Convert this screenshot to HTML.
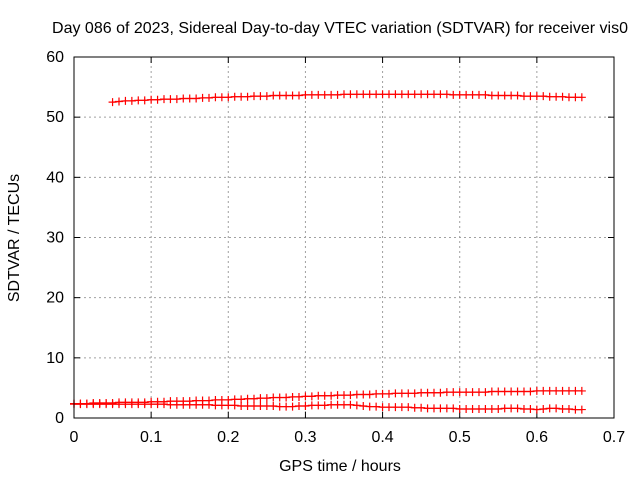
<!DOCTYPE html>
<html><head><meta charset="utf-8"><style>
body{margin:0;background:#fff}
svg text{font-family:"Liberation Sans",sans-serif;font-size:16px;fill:#000}
</style></head><body>
<svg id="chart" width="640" height="480" xmlns="http://www.w3.org/2000/svg">
<rect width="640" height="480" fill="#fff"/>
<text x="340" y="33" text-anchor="middle">Day 086 of 2023, Sidereal Day-to-day VTEC variation (SDTVAR) for receiver vis0</text>
<text x="340" y="471" text-anchor="middle">GPS time / hours</text>
<text transform="translate(19,238) rotate(-90)" text-anchor="middle">SDTVAR / TECUs</text>
<g id="grid"></g>
<g id="ticks"></g>
<g id="series"></g>
<rect x="74" y="57" width="540" height="361" fill="none" stroke="#000" stroke-width="1"/>
</svg>
<script>
const xTicks=[0,0.1,0.2,0.3,0.4,0.5,0.6,0.7];
const xTickLabels=["0","0.1","0.2","0.3","0.4","0.5","0.6","0.7"];
const yTicks=[0,10,20,30,40,50,60];
const yTickLabels=["0","10","20","30","40","50","60"];
const dt=0.008333;
const topStart=0.05;
const topValues=[52.5,52.6,52.7,52.7,52.8,52.8,52.9,52.9,
53.0,53.0,53.0,53.1,53.1,53.1,53.2,53.2,53.3,53.3,53.3,53.4,
53.4,53.4,53.5,53.5,53.5,53.6,53.6,53.6,53.6,53.6,53.7,53.7,
53.7,53.7,53.7,53.7,53.8,53.8,53.8,53.8,53.8,53.8,53.8,53.8,
53.8,53.8,53.8,53.8,53.8,53.8,53.8,53.8,53.8,53.7,53.7,53.7,
53.7,53.7,53.7,53.6,53.6,53.6,53.6,53.6,53.5,53.5,53.5,53.5,
53.4,53.4,53.4,53.3,53.3,53.3];
const lowStart=0;
const risingValues=[2.4,2.4,2.4,2.5,2.5,2.5,2.5,2.6,2.6,2.6,2.6,2.6,
2.7,2.7,2.7,2.8,2.8,2.8,2.8,2.9,2.9,2.9,3.0,3.0,
3.0,3.1,3.1,3.2,3.2,3.3,3.3,3.4,3.4,3.4,3.5,3.5,
3.6,3.6,3.7,3.7,3.7,3.8,3.8,3.8,3.9,3.9,3.9,4.0,
4.0,4.0,4.1,4.1,4.1,4.1,4.2,4.2,4.2,4.2,4.3,4.3,
4.3,4.3,4.3,4.3,4.3,4.4,4.4,4.4,4.4,4.4,4.4,4.4,
4.5,4.5,4.5,4.5,4.5,4.5,4.5,4.5];
const fallingValues=[2.3,2.3,2.3,2.3,2.3,2.3,2.3,2.3,2.3,2.3,2.3,2.3,
2.3,2.3,2.3,2.2,2.2,2.2,2.2,2.2,2.2,2.2,2.1,2.1,
2.1,2.1,2.0,2.0,2.0,2.0,2.0,2.0,1.9,1.9,1.9,2.0,
2.0,2.1,2.1,2.1,2.2,2.2,2.2,2.2,2.1,2.0,1.9,1.9,
1.8,1.8,1.8,1.8,1.8,1.7,1.7,1.6,1.6,1.6,1.6,1.6,
1.5,1.5,1.5,1.5,1.5,1.5,1.5,1.6,1.6,1.6,1.5,1.5,
1.4,1.5,1.6,1.6,1.5,1.5,1.4,1.4];
const NS="http://www.w3.org/2000/svg";
const X0=74,X1=614,Y0=418,Y1=57;
function xs(v){return X0+v/0.7*(X1-X0);}
function ys(v){return Y0-v/60*(Y0-Y1);}
function mk(tag,attrs,parent){const e=document.createElementNS(NS,tag);for(const k in attrs)e.setAttribute(k,attrs[k]);parent.appendChild(e);return e;}
const grid=document.getElementById('grid'),ticks=document.getElementById('ticks'),ser=document.getElementById('series');
xTicks.forEach((t,i)=>{const x=xs(t);
 if(i>0&&i<xTicks.length-1){const g=mk('line',{x1:x,x2:x,y1:Y0,y2:Y1,stroke:'#a0a0a0','stroke-dasharray':'2,3'},grid);
 
 }
 mk('line',{x1:x,x2:x,y1:Y0,y2:Y0-6,stroke:'#000'},ticks);
 mk('line',{x1:x,x2:x,y1:Y1,y2:Y1+6,stroke:'#000'},ticks);
 const tx=mk('text',{x:x,y:Y0+24,'text-anchor':'middle'},ticks);tx.textContent=xTickLabels[i];
 
 
});
yTicks.forEach((t,i)=>{const y=ys(t);
 if(i>0&&i<yTicks.length-1){const g=mk('line',{x1:X0,x2:X1,y1:y,y2:y,stroke:'#a0a0a0','stroke-dasharray':'2,3'},grid);
 
 }
 mk('line',{x1:X0,x2:X0+6,y1:y,y2:y,stroke:'#000'},ticks);
 mk('line',{x1:X1,x2:X1-6,y1:y,y2:y,stroke:'#000'},ticks);
 const tx=mk('text',{x:X0-10,y:y+5,'text-anchor':'end'},ticks);tx.textContent=yTickLabels[i];
 
 
});
function drawSeries(vals,start,name){
 const g=mk('g',{},ser);
 
 
 let pts=[];let d='';
 vals.forEach((v,i)=>{const x=xs(start+i*dt),y=ys(v);pts.push(x.toFixed(1)+','+y.toFixed(1));
  d+='M'+(x-4)+' '+y+'h8M'+x+' '+(y-4)+'v8';});
 mk('polyline',{points:pts.join(' '),fill:'none',stroke:'#ff0000','stroke-width':1.2},g);
 mk('path',{d:d,stroke:'#ff0000','stroke-width':1.2,fill:'none'},g);
}
drawSeries(topValues,topStart,'series-top');
drawSeries(risingValues,lowStart,'series-rising');
drawSeries(fallingValues,lowStart,'series-falling');
</script>
</body></html>
